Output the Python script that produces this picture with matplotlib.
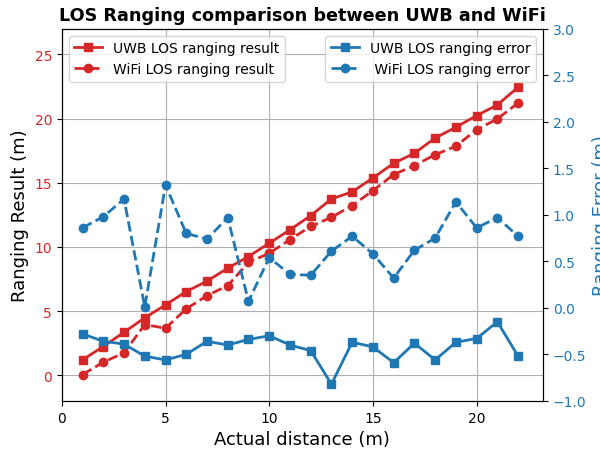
import numpy as np
import matplotlib
matplotlib.use("Agg")
import matplotlib.pyplot as plt

dist = np.arange(1, 23)
uwb_result = [1.2, 2.23, 3.35, 4.47, 5.48, 6.52, 7.33, 8.34, 9.25, 10.29, 11.33,
              12.44, 13.74, 14.29, 15.38, 16.52, 17.30, 18.49, 19.33, 20.24, 21.07, 22.45]
wifi_result = [0.05, 1.01, 1.74, 3.94, 3.66, 5.17, 6.2, 6.98, 8.8, 9.5, 10.57,
               11.6, 12.31, 13.22, 14.39, 15.64, 16.34, 17.19, 17.85, 19.14, 19.98, 21.22]
uwb_error = [-0.28, -0.36, -0.39, -0.52, -0.56, -0.50, -0.36, -0.40, -0.34, -0.30, -0.40,
             -0.46, -0.82, -0.37, -0.42, -0.59, -0.38, -0.56, -0.37, -0.33, -0.15, -0.52]
wifi_error = [0.86, 0.98, 1.17, 0.01, 1.32, 0.80, 0.74, 0.97, 0.07, 0.54, 0.36,
              0.35, 0.61, 0.77, 0.58, 0.32, 0.62, 0.75, 1.14, 0.86, 0.97, 0.77]

red = "tab:red"
blue = "tab:blue"

fig, ax1 = plt.subplots(figsize=(6, 4.52), dpi=100)
fig.subplots_adjust(left=0.103, right=0.905, top=0.934, bottom=0.111)

ax1.plot(dist, uwb_result, "s-", color=red, lw=2, ms=6, label="UWB LOS ranging result")
ax1.plot(dist, wifi_result, "o--", color=red, lw=2, ms=6, label="WiFi LOS ranging result")
ax1.set_xlabel("Actual distance (m)", fontsize=13)
ax1.set_ylabel("Ranging Result (m)", fontsize=13)
ax1.tick_params(axis="y", labelcolor=red)
ax1.set_ylim(-2, 27)
ax1.set_xlim(0, 23.2)
ax1.grid(True)
ax1.legend(loc="upper left")

ax2 = ax1.twinx()
ax2.plot(dist, uwb_error, "s-", color=blue, lw=2, ms=6, label="UWB LOS ranging error")
ax2.plot(dist, wifi_error, "o--", color=blue, lw=2, ms=6, label=" WiFi LOS ranging error")
# the reference image crops this label at the right edge
ax2.set_ylabel("Ranging Error (m)", fontsize=13, color=blue)
ax2.tick_params(axis="y", labelcolor=blue)
ax2.set_ylim(-1, 3)
ax2.legend(loc="upper right")

ax1.set_title("LOS Ranging comparison between UWB and WiFi", fontsize=12.7, fontweight="bold")

plt.savefig("out.png")
